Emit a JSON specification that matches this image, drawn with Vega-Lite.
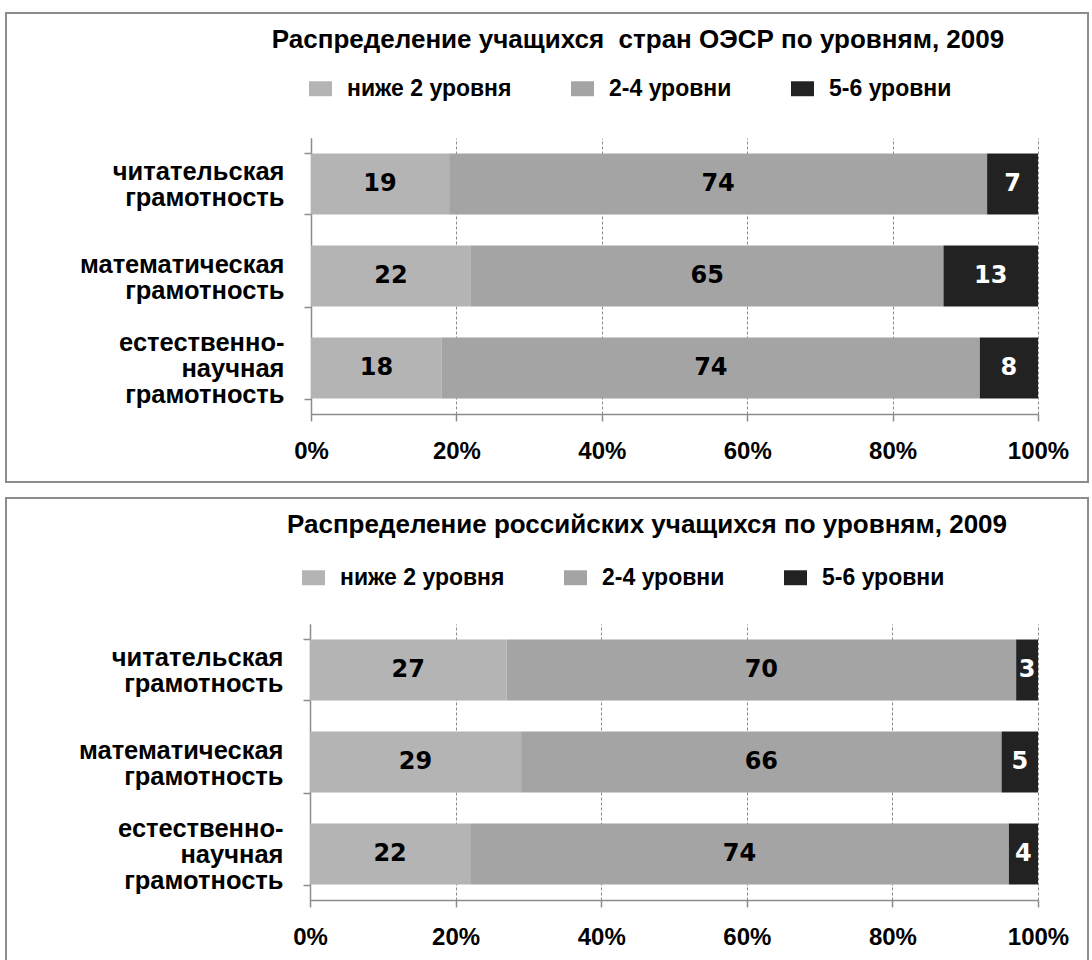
{
  "$schema": "https://vega.github.io/schema/vega-lite/v6.json",
  "background": "white",
  "padding": {"left": 5, "top": 0, "right": 0, "bottom": 0},
  "spacing": 2,
  "datasets": {
    "oecd": [
      {"subject": "читательская грамотность", "level": "ниже 2 уровня", "value": 19},
      {"subject": "читательская грамотность", "level": "2-4 уровни", "value": 74},
      {"subject": "читательская грамотность", "level": "5-6 уровни", "value": 7},
      {"subject": "математическая грамотность", "level": "ниже 2 уровня", "value": 22},
      {"subject": "математическая грамотность", "level": "2-4 уровни", "value": 65},
      {"subject": "математическая грамотность", "level": "5-6 уровни", "value": 13},
      {"subject": "естественно-научная грамотность", "level": "ниже 2 уровня", "value": 18},
      {"subject": "естественно-научная грамотность", "level": "2-4 уровни", "value": 74},
      {"subject": "естественно-научная грамотность", "level": "5-6 уровни", "value": 8}
    ],
    "rus": [
      {"subject": "читательская грамотность", "level": "ниже 2 уровня", "value": 27},
      {"subject": "читательская грамотность", "level": "2-4 уровни", "value": 70},
      {"subject": "читательская грамотность", "level": "5-6 уровни", "value": 3},
      {"subject": "математическая грамотность", "level": "ниже 2 уровня", "value": 29},
      {"subject": "математическая грамотность", "level": "2-4 уровни", "value": 66},
      {"subject": "математическая грамотность", "level": "5-6 уровни", "value": 5},
      {"subject": "естественно-научная грамотность", "level": "ниже 2 уровня", "value": 22},
      {"subject": "естественно-научная грамотность", "level": "2-4 уровни", "value": 74},
      {"subject": "естественно-научная грамотность", "level": "5-6 уровни", "value": 4}
    ]
  },
  "vconcat": [
    {
      "width": 1082,
      "height": 469,
      "title": {"text": "Распределение учащихся \u00a0стран ОЭСР по уровням, 2009", "anchor": "middle", "frame": "group", "dx": 91, "offset": -52},
      "data": {"name": "oecd"},
      "transform": [{"window": [{"op": "row_number", "as": "i"}]}],
      "encoding": {
        "y": {"field": "subject", "type": "nominal", "sort": null,
          "scale": {"range": [125, 401], "paddingInner": 0.337, "paddingOuter": 0.168},
          "axis": {"orient": "left", "offset": -305, "title": null, "tickBand": "extent", "grid": false,
            "labelExpr": "datum.label == 'естественно-научная грамотность' ? ['естественно-', 'научная', 'грамотность'] : split(datum.label, ' ')",
            "labelOffset": {"condition": {"test": "datum.value == 'естественно-научная грамотность'", "value": -26}, "value": -12}}},
        "order": {"field": "i", "type": "quantitative"}
      },
      "layer": [
        {
          "mark": {"type": "bar"},
          "encoding": {
            "x": {"field": "value", "type": "quantitative", "stack": "zero",
              "scale": {"domain": [0, 100], "range": [305, 1032]},
              "axis": {"orient": "bottom", "offset": -68, "values": [0, 20, 40, 60, 80, 100], "labelExpr": "datum.value + '%'", "title": null, "grid": false}},
            "color": {"field": "level", "type": "nominal",
              "scale": {"domain": ["ниже 2 уровня", "2-4 уровни", "5-6 уровни"], "range": ["#b4b4b4", "#a4a4a4", "#222222"]},
              "legend": {"orient": "none", "legendX": 303, "legendY": 64}}
          }
        },
        {
          "mark": {"type": "text", "font": "DejaVu Sans", "fontWeight": "bold", "fontSize": 24, "baseline": "middle", "align": "center"},
          "encoding": {
            "x": {"field": "value", "type": "quantitative", "stack": "zero", "bandPosition": 0.5,
              "scale": {"domain": [0, 100], "range": [305, 1032]},
              "axis": {"orient": "bottom", "offset": -68, "values": [0, 20, 40, 60, 80, 100], "labels": false, "domain": false, "title": null, "grid": false, "tickSize": 7, "tickDash": [], "tickWidth": 1.5}},
            "detail": {"field": "level", "type": "nominal"},
            "text": {"field": "value", "type": "quantitative"},
            "color": {"condition": {"test": "datum.level === '5-6 уровни'", "value": "#ffffff"}, "value": "#000000"}
          }
        }
      ],
      "resolve": {"scale": {"x": "independent"}, "axis": {"x": "independent"}}
    },
    {
      "width": 1082,
      "height": 469,
      "title": {"text": "Распределение российских учащихся по уровням, 2009", "anchor": "middle", "frame": "group", "dx": 100, "offset": -52},
      "data": {"name": "rus"},
      "transform": [{"window": [{"op": "row_number", "as": "i"}]}],
      "encoding": {
        "y": {"field": "subject", "type": "nominal", "sort": null,
          "scale": {"range": [126, 402], "paddingInner": 0.337, "paddingOuter": 0.168},
          "axis": {"orient": "left", "offset": -304, "title": null, "tickBand": "extent", "grid": false,
            "labelExpr": "datum.label == 'естественно-научная грамотность' ? ['естественно-', 'научная', 'грамотность'] : split(datum.label, ' ')",
            "labelOffset": {"condition": {"test": "datum.value == 'естественно-научная грамотность'", "value": -26}, "value": -12}}},
        "order": {"field": "i", "type": "quantitative"}
      },
      "layer": [
        {
          "mark": {"type": "bar"},
          "encoding": {
            "x": {"field": "value", "type": "quantitative", "stack": "zero",
              "scale": {"domain": [0, 100], "range": [304, 1032]},
              "axis": {"orient": "bottom", "offset": -67, "values": [0, 20, 40, 60, 80, 100], "labelExpr": "datum.value + '%'", "title": null, "grid": false}},
            "color": {"field": "level", "type": "nominal",
              "scale": {"domain": ["ниже 2 уровня", "2-4 уровни", "5-6 уровни"], "range": ["#b4b4b4", "#a4a4a4", "#222222"]},
              "legend": {"orient": "none", "legendX": 296, "legendY": 68}}
          }
        },
        {
          "mark": {"type": "text", "font": "DejaVu Sans", "fontWeight": "bold", "fontSize": 24, "baseline": "middle", "align": "center"},
          "encoding": {
            "x": {"field": "value", "type": "quantitative", "stack": "zero", "bandPosition": 0.5,
              "scale": {"domain": [0, 100], "range": [304, 1032]},
              "axis": {"orient": "bottom", "offset": -67, "values": [0, 20, 40, 60, 80, 100], "labels": false, "domain": false, "title": null, "grid": false, "tickSize": 7, "tickDash": [], "tickWidth": 1.5}},
            "detail": {"field": "level", "type": "nominal"},
            "text": {"field": "value", "type": "quantitative"},
            "color": {"condition": {"test": "datum.level === '5-6 уровни'", "value": "#ffffff"}, "value": "#000000"}
          }
        }
      ],
      "resolve": {"scale": {"x": "independent"}, "axis": {"x": "independent"}}
    }
  ],
  "resolve": {"scale": {"x": "independent", "y": "independent", "color": "independent"}, "legend": {"color": "independent"}, "axis": {"x": "independent", "y": "independent"}},
  "config": {
    "font": "Liberation Sans",
    "view": {"stroke": "#8c8c8c", "strokeWidth": 2},
    "title": {"font": "Liberation Sans", "fontSize": 26, "fontWeight": "bold", "color": "#000000"},
    "axis": {
      "domainColor": "#8c8c8c", "domainWidth": 1.5,
      "tickColor": "#8c8c8c", "tickWidth": 1.5, "tickSize": 7,
      "labelFont": "Liberation Sans", "labelFontWeight": "bold", "labelColor": "#000000"
    },
    "axisX": {"labelFontSize": 24, "labelPadding": 301, "labelFlush": false, "tickSize": -276, "tickDash": [3, 2], "tickWidth": 1},
    "axisY": {"labelFontSize": 25.5, "labelLineHeight": 26, "labelPadding": 20, "labelLimit": 400, "labelAlign": "right", "labelBaseline": "middle"},
    "legend": {
      "direction": "horizontal", "title": null,
      "symbolType": "M-1,-0.65H1V0.65H-1Z", "symbolSize": 529, "symbolStrokeWidth": 0, "symbolOpacity": 1,
      "labelFont": "Liberation Sans", "labelFontSize": 23, "labelFontWeight": "bold", "labelColor": "#000000",
      "labelOffset": 15, "columnPadding": 59, "labelLimit": 300
    }
  }
}
